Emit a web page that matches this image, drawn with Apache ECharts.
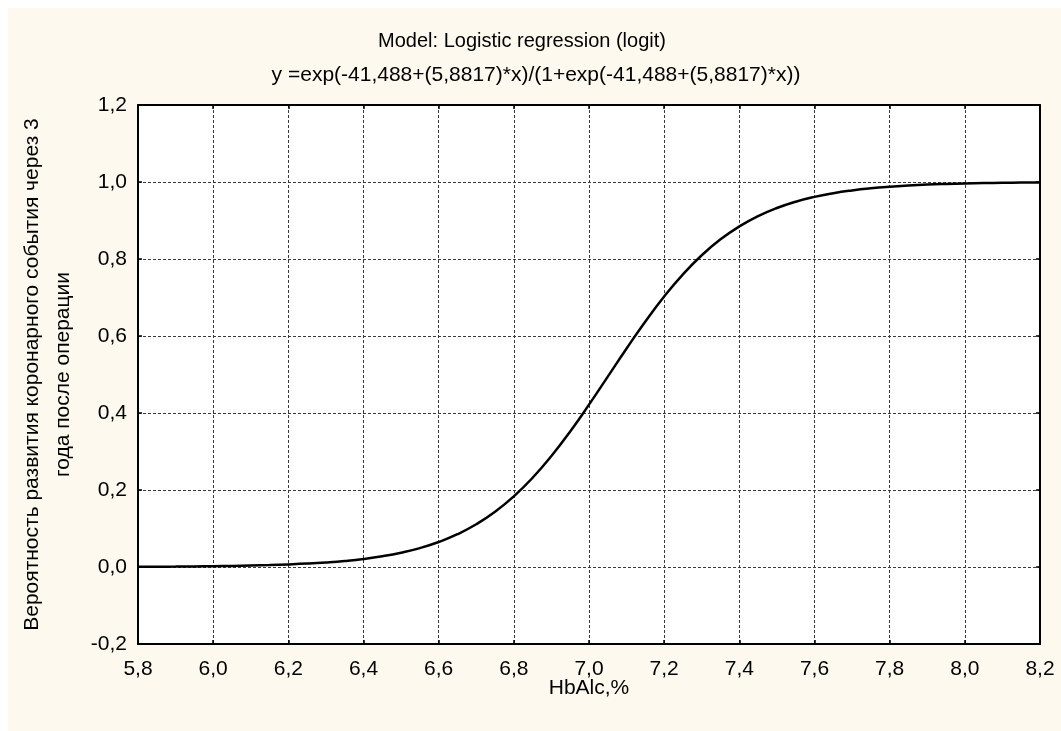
<!DOCTYPE html>
<html>
<head>
<meta charset="utf-8">
<script src="https://cdn.jsdelivr.net/npm/echarts@6/dist/echarts.min.js"></script>
<style>
  html, body { margin: 0; padding: 0; background: #ffffff; }
  #chart { position: absolute; left: 8px; top: 8px; width: 1053px; height: 723px; background: #fdf9ef; }
</style>
</head>
<body>
<div id="chart"></div>
<script>
// HbA1c values (%) and the fitted probability of a coronary event
const hba1c = [5.80, 5.85, 5.90, 5.95, 6.00, 6.05, 6.10, 6.15, 6.20, 6.25,
               6.30, 6.35, 6.40, 6.45, 6.50, 6.55, 6.60, 6.65, 6.70, 6.75,
               6.80, 6.85, 6.90, 6.95, 7.00, 7.05, 7.10, 7.15, 7.20, 7.25,
               7.30, 7.35, 7.40, 7.45, 7.50, 7.55, 7.60, 7.65, 7.70, 7.75,
               7.80, 7.85, 7.90, 7.95, 8.00, 8.05, 8.10, 8.15, 8.20];
const probability = [0.0006, 0.0008, 0.0011, 0.0015, 0.0020, 0.0027, 0.0037, 0.0049, 0.0066, 0.0088,
                     0.0118, 0.0157, 0.0209, 0.0279, 0.0371, 0.0491, 0.0649, 0.0851, 0.1110, 0.1434,
                     0.1836, 0.2318, 0.2882, 0.3520, 0.4217, 0.4945, 0.5676, 0.6378, 0.7027, 0.7603,
                     0.8097, 0.8510, 0.8846, 0.9114, 0.9325, 0.9488, 0.9614, 0.9709, 0.9781, 0.9836,
                     0.9877, 0.9908, 0.9932, 0.9949, 0.9962, 0.9972, 0.9979, 0.9984, 0.9988];

const titleLines = ['Model: Logistic regression (logit)',
                    'y =exp(-41,488+(5,8817)*x)/(1+exp(-41,488+(5,8817)*x))'];
const xName = 'HbAlc,%';
const yNameLines = ['Вероятность развития коронарного события через 3',
                    'года после операции'];

const xRange = { min: 5.8, max: 8.2, interval: 0.2 };
const yRange = { min: -0.2, max: 1.2, interval: 0.2 };

const FONT = 'Liberation Sans, Arial, sans-serif';
const FS = 21;
const comma = v => v.toFixed(1).replace('.', ',');

const points = hba1c.map((x, i) => [x, probability[i]]);

const W = 1053, H = 723;
const grid = { left: 130, right: 21, top: 97, bottom: 87 };
const plotCx = grid.left + (W - grid.left - grid.right) / 2;
const plotCy = grid.top + (H - grid.top - grid.bottom) / 2;

const axisLine = { show: true, onZero: false, lineStyle: { color: '#000', width: 2 } };
const axisTick = { show: true, inside: true, length: 4, lineStyle: { color: '#000', width: 1.5 } };
const splitLine = { show: true, lineStyle: { color: '#3a3a3a', width: 1, type: [3, 2] } };

function label(text, x, y, size, rotation) {
  return { type: 'text', x, y, rotation: rotation || 0,
           style: { text, font: `${size}px ${FONT}`, fill: '#000',
                    textAlign: 'center', textVerticalAlign: 'middle' } };
}

const chart = echarts.init(document.getElementById('chart'), null, { renderer: 'canvas' });
chart.setOption({
  backgroundColor: 'transparent',
  animation: false,
  grid: { left: grid.left, right: grid.right, top: grid.top, bottom: grid.bottom,
          show: true, backgroundColor: '#ffffff', borderWidth: 0 },
  xAxis: [
    { type: 'value', position: 'bottom', ...xRange,
      axisLine, axisTick, splitLine,
      axisLabel: { color: '#000', fontFamily: FONT, fontSize: FS, margin: 15, formatter: comma } },
    { type: 'value', position: 'top', ...xRange,
      axisLine, axisTick, splitLine: { show: false }, axisLabel: { show: false } }
  ],
  yAxis: [
    { type: 'value', position: 'left', ...yRange,
      axisLine, axisTick, splitLine,
      axisLabel: { color: '#000', fontFamily: FONT, fontSize: FS, margin: 11, formatter: comma } },
    { type: 'value', position: 'right', ...yRange,
      axisLine, axisTick, splitLine: { show: false }, axisLabel: { show: false } }
  ],
  series: [{
    type: 'line',
    data: points,
    smooth: true,
    showSymbol: false,
    lineStyle: { color: '#000', width: 2.5 },
    z: 5
  }],
  graphic: [
    label(titleLines[0], 514, 33, 20),
    label(titleLines[1], 528, 67, 21),
    label(xName, plotCx, 680, FS),
    label(yNameLines[0], 24, plotCy, FS, Math.PI / 2),
    label(yNameLines[1], 55, plotCy, FS, Math.PI / 2)
  ]
});
</script>
</body>
</html>
